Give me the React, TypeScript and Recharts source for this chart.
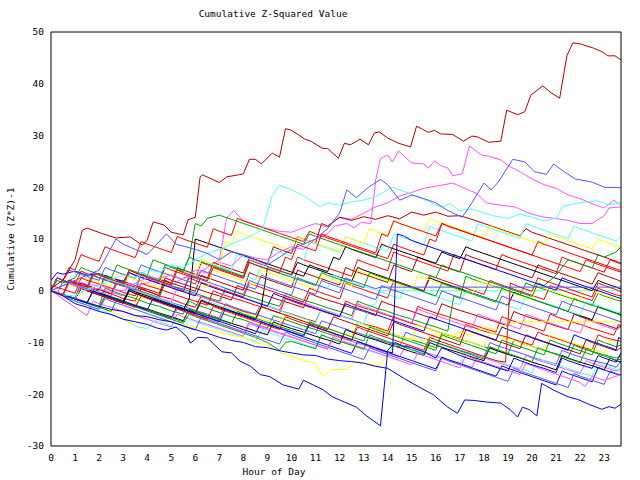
import React from "react";
import { LineChart, Line, XAxis, YAxis } from "recharts";

type Pt = [number, number];

const hourTicks = [0, 1, 2, 3, 4, 5, 6, 7, 8, 9, 10, 11, 12, 13, 14, 15, 16, 17, 18, 19, 20, 21, 22, 23];
const valueTicks = [-30, -20, -10, 0, 10, 20, 30, 40, 50];

const DR = "#b00000";
const R = "#ff0000";
const G = "#00a000";
const B = "#0000ee";
const LB = "#5555ff";
const M = "#ff50ff";
const C = "#50ffff";
const Y = "#ffff00";
const K = "#000000";

// [hour, value] pairs
const drTop: Pt[] = [[0, 0.5], [0.5, 2], [1, 6], [1.3, 11.7], [1.5, 12.1], [2.1, 11.1], [2.7, 10.2], [3.3, 10.4], [3.8, 8.8], [4, 9.8], [4.25, 13.3], [4.7, 12.7], [5, 11.3], [5.5, 10.8], [5.7, 13.7], [6, 14.2], [6.2, 22], [6.3, 22.4], [7, 20.9], [7.3, 22], [7.8, 22.4], [8, 22.6], [8.25, 25.4], [8.5, 25.4], [8.75, 24.5], [9.2, 26.6], [9.5, 25.8], [9.75, 31.3], [9.95, 31.1], [10.3, 30.1], [10.55, 29.3], [10.8, 28.9], [11.3, 27.5], [11.5, 27.5], [11.95, 25.6], [12.2, 28.5], [12.45, 28.2], [12.85, 29.3], [13.2, 28.2], [13.45, 30.5], [13.65, 30.7], [14, 29.5], [14.45, 28.5], [14.95, 27.8], [15.2, 31.8], [15.45, 31.2], [15.7, 30.6], [15.95, 31], [16.2, 30.3], [16.7, 30.2], [17.15, 28.9], [17.5, 29.9], [17.75, 29.7], [18.2, 28.7], [18.7, 28.9], [18.95, 34.9], [19.4, 34], [19.7, 34.6], [19.95, 37.8], [20.45, 39.6], [20.75, 38.4], [21.15, 37.2], [21.45, 45.4], [21.7, 47.9], [22, 47.7], [22.55, 46.9], [22.95, 46.1], [23.15, 45.4], [23.45, 45.4], [23.7, 44.6]];
const magA: Pt[] = [[0, 0], [0.5, -0.8], [0.75, 1.5], [1, 1], [1.5, 0.2], [2, 0.5], [2.5, -0.3], [3, -1], [3.25, 1.5], [3.5, 1], [4, 1.5], [4.5, 2.5], [5, 3], [5.5, 2.2], [6, 4], [6.5, 3.4], [7, 5.5], [7.5, 4.8], [8, 7], [8.5, 6.3], [9, 6], [9.5, 7.5], [10, 8.5], [10.5, 8], [11, 10], [11.5, 11], [11.8, 12.5], [12.3, 13], [12.6, 12.2], [12.9, 13.2], [13.3, 13], [13.5, 21.4], [13.7, 25.6], [14, 26.2], [14.2, 24.9], [14.45, 27], [14.7, 25.9], [15, 24.7], [15.5, 24.5], [15.7, 23.7], [15.95, 25.1], [16.2, 24.2], [16.5, 23.7], [16.7, 22.2], [17.1, 22.6], [17.4, 28], [17.9, 26.2], [18.2, 26], [18.7, 25.3], [19, 24.2], [19.5, 23], [20, 21.6], [20.5, 20.5], [21, 19.8], [21.5, 18.5], [22, 17.8], [22.5, 16.8], [23, 16], [23.4, 17.5], [23.7, 16.5]];
const magB: Pt[] = [[0, 0], [0.5, 1], [1, 2], [1.5, 1.2], [2, 1], [2.5, 0.3], [3, 0], [3.5, 1.5], [4, 2.5], [4.5, 1.8], [5, 1], [5.5, 2.5], [6, 3], [6.5, 4.5], [7, 6], [7.3, 14], [7.6, 15.5], [8, 13.5], [8.5, 12.8], [9, 12], [9.5, 11.5], [10, 11.3], [10.5, 12.2], [11, 13], [11.5, 12.3], [12, 14.2], [12.5, 13.8], [13, 15], [13.5, 16.2], [14, 17], [14.5, 18.3], [15, 19], [15.5, 19.8], [16, 20.2], [16.7, 20.8], [17.2, 19.8], [17.7, 18.8], [18.1, 17], [18.6, 16.6], [19.3, 16.2], [19.8, 15.1], [20.4, 14.3], [20.9, 14], [21.5, 13.6], [22, 13], [22.5, 13], [23, 14.5], [23.2, 16], [23.7, 16.2]];
const blueTop: Pt[] = [[0, 0], [0.5, 1], [1, 2], [1.5, 3], [2, 4], [2.7, 10], [3, 9], [3.5, 8], [4, 7], [4.8, 11], [5.2, 9], [6, 8], [6.5, 7.2], [7, 6], [7.5, 7.5], [8, 7], [8.5, 6], [9, 5], [9.5, 6.5], [10, 8], [10.5, 9], [11, 10], [11.5, 12], [12, 15], [12.3, 19.5], [12.7, 18], [13.2, 20], [13.7, 21.5], [14, 20.5], [14.5, 17.5], [15, 18.5], [15.5, 17.8], [16, 17], [16.5, 15.5], [17.1, 14.2], [17.5, 17], [18, 20.8], [18.3, 19.5], [18.6, 21], [19.2, 25.4], [19.7, 24.9], [20.1, 23], [20.6, 22.5], [20.9, 24.5], [21.3, 23.1], [21.8, 21.6], [22.5, 21], [23, 20], [23.7, 19.9]];
const cyanTop: Pt[] = [[0, 0], [0.5, -0.8], [1, -1], [1.5, 0.3], [2, 1], [2.5, 2.2], [3, 3], [3.5, 2.5], [4, 4], [4.5, 3.6], [5, 5], [5.5, 4.4], [6, 6], [6.5, 7.2], [7, 8], [7.5, 9], [8, 10], [8.5, 11], [8.8, 12], [9.2, 18.4], [9.5, 20.4], [10, 19.5], [10.6, 18.1], [11.2, 16.2], [11.5, 17], [12, 16.5], [12.5, 17.2], [13, 17.5], [13.5, 18.2], [14.2, 20], [14.8, 19], [15.3, 18.1], [16.2, 16.2], [16.6, 16.8], [17, 15.5], [17.5, 15.8], [18, 15], [18.5, 14.4], [19, 14], [19.5, 14.8], [20, 14.2], [20.5, 13.5], [21, 14], [21.3, 16.4], [22, 17], [22.7, 17.4], [23.2, 16.6], [23.7, 17]];
const cyan2: Pt[] = [[0, 0], [0.5, -0.8], [1, -1.6], [1.25, 1], [1.5, 0.5], [2, -0.3], [2.25, 2.5], [2.5, 2], [3, 1.2], [3.5, 0.4], [3.75, 3.5], [4, 3], [4.5, 2.2], [4.75, 5], [5, 4.5], [5.5, 3.7], [6, 2.9], [6.25, 6], [6.5, 5.5], [7, 4.7], [7.5, 3.9], [7.75, 7], [8, 6.5], [8.5, 5.7], [9, 4.9], [9.25, 8], [9.5, 7.5], [10, 6.7], [10.5, 5.9], [10.75, 9.5], [11, 9], [11.5, 8.2], [12, 7.4], [12.25, 10.5], [12.5, 10], [13, 9.2], [13.5, 8.4], [14, 7.6], [14.25, 11], [14.5, 10.5], [15, 9.7], [15.5, 8.9], [15.75, 12.5], [16, 12], [16.5, 11.2], [17, 10.4], [17.5, 9.6], [17.75, 13], [18, 12.5], [18.5, 11.7], [19, 10.9], [19.5, 10.1], [19.75, 13], [20, 12.5], [20.5, 11.7], [21, 10.9], [21.5, 10.1], [21.75, 12.5], [22, 12], [22.5, 11.2], [23, 10.4], [23.5, 9.6], [23.7, 10.5]];
const drMid: Pt[] = [[0, 0], [0.5, -0.8], [0.75, 2], [1, 1.5], [1.5, 0.7], [2, -0.1], [2.25, 2.5], [2.5, 2], [3, 1.2], [3.5, 0.4], [3.75, 3.5], [4, 3], [4.5, 2.2], [5, 1.4], [5.25, 4.5], [5.5, 4], [6, 3.2], [6.5, 2.4], [6.75, 5.5], [7, 5], [7.5, 4.2], [8, 3.4], [8.25, 6.5], [8.5, 6], [9, 5.2], [9.25, 8.5], [9.5, 8], [10, 7.2], [10.25, 10.5], [10.5, 10], [11, 9.2], [11.25, 13], [11.5, 12.5], [12, 14.2], [12.5, 13.6], [13, 14.3], [13.5, 13.8], [14, 14.5], [14.5, 13.9], [15, 15.2], [15.5, 14.6], [16, 15.2], [16.5, 14.4], [17, 14.5], [17.5, 13.8], [18, 13], [18.5, 12.2], [19, 11.4], [19.5, 10.6], [19.75, 12], [20, 11.3], [20.5, 10.5], [21, 9.7], [21.5, 8.9], [22, 8.1], [22.5, 7.3], [23, 6.5], [23.5, 5.7], [23.7, 5.3]];
const yellowTop: Pt[] = [[0, 0], [0.5, -0.8], [0.75, 1.5], [1, 1], [1.5, 0.2], [1.75, 3], [2, 2.5], [2.5, 1.7], [3, 0.9], [3.25, 4], [3.5, 3.5], [4, 2.7], [4.5, 1.9], [5, 1.1], [5.25, 4], [5.5, 3.5], [6, 2.7], [6.25, 6], [6.5, 5.5], [7, 4.7], [7.25, 9.5], [7.5, 9], [7.75, 11.5], [8, 11], [8.5, 10.2], [9, 9.4], [9.5, 8.6], [10, 7.8], [10.25, 10.5], [10.5, 10], [11, 9.2], [11.5, 8.4], [12, 7.6], [12.25, 10.5], [12.5, 10], [13, 9.2], [13.25, 12], [13.5, 11.5], [14, 10.7], [14.25, 13.5], [14.5, 13], [15, 12.2], [15.5, 11.4], [15.75, 14], [16, 13.5], [16.5, 12.7], [17, 11.9], [17.5, 11.1], [18, 10.3], [18.25, 12.5], [18.5, 12], [19, 11.2], [19.5, 10.4], [20, 9.6], [20.5, 8.8], [20.75, 11], [21, 10.5], [21.5, 9.7], [22, 8.9], [22.5, 8.1], [22.75, 10], [23, 9.5], [23.5, 8.7], [23.7, 8.4]];
const greenTop: Pt[] = [[0, 0], [0.5, -0.8], [0.75, 1.5], [1, 1], [1.5, 0.2], [1.75, 3], [2, 2.5], [2.5, 1.7], [3, 0.9], [3.25, 4], [3.5, 3.5], [4, 2.7], [4.5, 1.9], [4.75, 5], [5, 4.5], [5.5, 3.7], [5.75, 6.5], [6, 13], [6.25, 12.5], [6.5, 14], [7, 14.6], [7.5, 13.8], [8, 13], [8.5, 12.2], [9, 11.4], [9.5, 10.6], [10, 9.8], [10.5, 9], [10.75, 11], [11, 10.5], [11.5, 9.7], [12, 8.9], [12.5, 8.1], [13, 7.3], [13.5, 6.5], [14, 5.7], [14.5, 4.9], [15, 4.1], [15.5, 3.3], [16, 2.5], [16.25, 5], [16.5, 4.5], [17, 3.7], [17.5, 2.9], [18, 2.1], [18.5, 1.3], [19, 0.5], [19.5, -0.3], [20, -1.1], [20.25, 1.5], [20.5, 1], [21, 3], [21.5, 6], [22, 5.2], [22.5, 4.4], [22.75, 7], [23, 6.5], [23.5, 7.5], [23.7, 8.5]];
const black1: Pt[] = [[0, 0], [0.5, -0.8], [1, -1.6], [1.25, 0.5], [1.5, 0], [2, -0.8], [2.5, -1.6], [3, -2.4], [3.25, 0], [3.5, -0.5], [4, -1.3], [4.5, -2.1], [5, -2.9], [5.5, -3.7], [5.75, -1.5], [6, 10], [6.5, 9.2], [7, 8.4], [7.5, 7.6], [8, 6.8], [8.5, 6], [9, 5.2], [9.5, 4.4], [10, 3.6], [10.5, 2.8], [10.75, 5], [11, 4.5], [11.5, 3.7], [11.75, 6.5], [12, 6], [12.25, 8.5], [12.5, 8], [13, 7.2], [13.5, 6.4], [13.75, 9], [14, 8.5], [14.5, 7.7], [15, 6.9], [15.5, 6.1], [16, 5.3], [16.25, 7.5], [16.5, 7], [17, 6.2], [17.25, 8.5], [17.5, 8], [18, 7.2], [18.5, 6.4], [19, 5.6], [19.5, 4.8], [20, 4], [20.5, 3.2], [21, 2.4], [21.5, 1.6], [22, 0.8], [22.5, 0], [22.75, 2], [23, 1.5], [23.5, 0.7], [23.7, 0.3]];
const black2: Pt[] = [[0, 0], [0.5, -0.7], [0.75, 1.5], [1, 1.2], [1.5, 0.4], [2, -0.4], [2.5, -1.2], [3, -2], [3.25, 0.3], [3.5, -0.2], [4, -1], [4.5, -1.8], [5, -2.6], [5.5, -3.4], [6, -4.2], [6.25, -1.8], [6.5, -2.3], [7, -3.1], [7.5, -3.9], [8, -4.7], [8.5, -5.5], [8.75, -3], [9, 4.5], [9.5, 3.8], [10, 3], [10.25, 5.5], [10.5, 5], [11, 4.2], [11.5, 3.4], [12, 2.6], [12.5, 1.8], [12.75, 4.5], [13, 4], [13.5, 3.2], [14, 2.4], [14.5, 1.6], [15, 0.8], [15.5, 0], [15.75, 2.5], [16, 2], [16.5, 1.2], [17, 0.4], [17.5, -0.4], [18, -1.2], [18.5, -2], [19, -2.8], [19.25, -0.3], [19.5, -0.8], [20, -1.6], [20.5, -2.4], [21, -3.2], [21.5, -4], [22, -4.8], [22.5, -5.6], [22.75, -3], [23, -3.5], [23.5, -4.3], [23.7, -4.6]];
const black3: Pt[] = [[0, 0], [0.5, -0.7], [1, -1.5], [1.5, -2.3], [1.75, 0], [2, -0.5], [2.5, -1.3], [3, -2], [3.5, -2.8], [4, -3.5], [4.5, -4.3], [5, -5], [5.5, -5.8], [5.75, -3.5], [6, -4], [6.5, -4.8], [7, -5.5], [7.5, -6.3], [8, -7], [8.5, -7.8], [9, -8.5], [9.25, -6], [9.5, -6.5], [10, -7.3], [10.5, -8], [11, -8.8], [11.5, -9.5], [12, -10.3], [12.25, -7.5], [12.5, -8], [13, -8.8], [13.5, -9.5], [14, -10.3], [14.5, -11], [15, -11.8], [15.5, -12.5], [15.75, -10], [16, -10.5], [16.5, -11.3], [17, -12], [17.5, -12.8], [18, -13.5], [18.25, -11], [18.5, -11.5], [19, -12.3], [19.5, -13], [20, -13.8], [20.5, -14.5], [21, -15.3], [21.25, -12.5], [21.5, -13], [22, -13.8], [22.5, -14.5], [23, -15.3], [23.25, -13], [23.5, -13.5], [23.7, -13.8]];
const red1: Pt[] = [[0, 0], [0.5, -0.8], [1, -1.6], [1.25, 0.5], [1.5, 0], [2, -0.8], [2.5, -1.6], [3, -2.4], [3.5, -3.2], [3.75, -1], [4, -1.5], [4.5, -2.3], [5, -3.1], [5.5, -3.9], [6, -4.7], [6.5, -5.5], [6.75, -3], [7, -3.5], [7.5, -4.3], [8, -5.1], [8.5, -5.9], [9, -6.7], [9.5, -7.5], [9.75, -5], [10, -5.5], [10.5, -6.3], [11, -7.1], [11.5, -7.9], [12, -8.7], [12.5, -9.5], [12.75, -7], [13, -7.5], [13.5, -8.3], [14, -9.1], [14.5, -9.9], [15, -10.7], [15.5, -11.5], [15.75, -9], [16, -9.5], [16.5, -10.3], [17, -11.1], [17.5, -11.9], [18, -12.7], [18.5, -13.5], [18.9, -13.8], [19.1, 1.5], [19.5, 0.7], [20, -0.1], [20.25, 2.5], [20.5, 2], [21, 1.2], [21.5, 0.4], [22, -0.4], [22.5, -1.2], [22.75, 1.5], [23, 1], [23.5, 0.2], [23.7, -0.2]];
const red2: Pt[] = [[0, 0], [0.25, 2.5], [0.5, 2], [0.75, 4.5], [1, 4], [1.25, 7], [1.5, 6.5], [2, 5.7], [2.25, 8.5], [2.5, 8], [3, 7.2], [3.5, 6.4], [3.75, 9.5], [4, 9], [4.5, 8.2], [5, 7.4], [5.25, 10.5], [5.5, 10], [6, 9.2], [6.5, 8.4], [6.75, 12], [7, 11.5], [7.5, 10.7], [7.75, 14], [8, 13.5], [8.5, 12.7], [9, 11.9], [9.5, 11.1], [10, 10.3], [10.5, 9.5], [10.75, 11.5], [11, 11], [11.5, 10.2], [12, 9.4], [12.5, 8.6], [13, 7.8], [13.5, 7], [14, 6.2], [14.25, 9], [14.5, 8.5], [15, 7.7], [15.5, 6.9], [15.75, 10], [16, 9.5], [16.25, 13], [16.5, 12.5], [17, 11.7], [17.5, 10.9], [18, 10.1], [18.5, 9.3], [19, 8.5], [19.5, 7.7], [20, 6.9], [20.5, 6.1], [21, 5.3], [21.5, 4.5], [22, 3.7], [22.25, 6], [22.5, 5.5], [23, 4.7], [23.5, 3.9], [23.7, 3.6]];
const red3: Pt[] = [[0, 0], [0.5, -0.8], [0.75, 2], [1, 1.5], [1.5, 0.7], [1.75, 3.5], [2, 3], [2.5, 2.2], [3, 1.4], [3.25, 4], [3.5, 3.5], [4, 2.7], [4.5, 1.9], [5, 1.1], [5.25, 4], [5.5, 3.5], [6, 2.7], [6.5, 1.9], [6.75, 4.5], [7, 4], [7.5, 3.2], [8, 2.4], [8.25, 5.5], [8.5, 5], [9, 4.2], [9.5, 3.4], [9.75, 6.5], [10, 6], [10.25, 9], [10.5, 8.5], [11, 7.7], [11.25, 11], [11.5, 10.5], [12, 9.7], [12.5, 8.9], [13, 8.1], [13.5, 7.3], [13.75, 11], [14, 10.5], [14.25, 13.5], [14.5, 13], [15, 12.2], [15.5, 11.4], [16, 10.6], [16.25, 13], [16.5, 12.5], [17, 11.7], [17.5, 10.9], [18, 10.1], [18.5, 9.3], [19, 8.5], [19.5, 7.7], [20, 6.9], [20.25, 9.5], [20.5, 9], [21, 8.2], [21.5, 7.4], [22, 6.6], [22.5, 5.8], [23, 5], [23.5, 4.2], [23.7, 3.9]];
const red4: Pt[] = [[0, 0], [0.5, -0.8], [1, -1.5], [1.25, 1.5], [1.5, 1], [2, 0.2], [2.5, -0.6], [3, -1.5], [3.5, -2], [3.75, 0.5], [4, 0], [4.5, -1], [5, -1.6], [5.5, -2.5], [6, -3.2], [6.25, -1], [6.5, -1.5], [7, -2.3], [7.5, -3.2], [8, -4], [8.5, -4.6], [8.75, -2.5], [9, -3], [9.5, -3.8], [10, -4.5], [10.5, -5.3], [11, -6], [11.25, -3.5], [11.5, -4], [12, -4.8], [12.5, -5.5], [13, -6.4], [13.5, -7], [14, -7.8], [14.25, -5], [14.5, -5.5], [15, -6.3], [15.5, -7], [16, -7.8], [16.5, -8.5], [17, -9.2], [17.25, -6.5], [17.5, -7], [18, -7.8], [18.5, -8.4], [19, -9], [19.5, -9.8], [20, -10.5], [20.25, -8], [20.5, -8.5], [21, -9.2], [21.5, -10], [22, -10.8], [22.5, -11.4], [22.75, -8.5], [23, -9], [23.5, -9.6], [23.7, -9.8]];
const red5: Pt[] = [[0, 1], [0.5, 0.3], [1, -0.5], [1.25, 2.5], [1.5, 2], [2, 1.3], [2.5, 0.5], [3, -0.3], [3.5, -1], [3.75, 1.5], [4, 1], [4.5, 0.3], [5, -0.5], [5.5, -1.3], [6, -2], [6.5, -2.8], [6.75, 0], [7, -0.5], [7.5, -1.3], [8, -2], [8.5, -2.8], [9, -3.5], [9.5, -4.3], [9.75, -1.5], [10, -2], [10.5, -2.8], [11, -3.5], [11.5, -4.3], [12, -5], [12.25, -2], [12.5, -2.5], [13, -3.3], [13.5, -4], [14, -4.8], [14.5, -5.5], [15, -6.3], [15.25, -3], [15.5, -3.5], [16, -4.3], [16.5, -5], [17, -5.8], [17.5, -6.5], [18, -7.3], [18.5, -8], [18.75, -5], [19, -5.5], [19.5, -6.3], [20, -7], [20.5, -7.8], [20.75, -4.5], [21, -5], [21.5, -5.8], [22, -6.5], [22.5, -7.3], [23, -8], [23.4, -8.6], [23.6, -6.5], [23.7, -6.8]];
const red6: Pt[] = [[0, 0], [0.25, 2.5], [0.5, 2], [1, 1.2], [1.25, 3.8], [1.5, 3.3], [2, 2.5], [2.5, 1.7], [3, 0.9], [3.25, 3.5], [3.5, 3], [4, 2.2], [4.5, 1.4], [5, 0.6], [5.5, -0.2], [5.75, 2.5], [6, 2], [6.5, 1.2], [7, 0.4], [7.5, -0.4], [8, -1.2], [8.25, 1.5], [8.5, 1], [9, 0.2], [9.5, -0.6], [10, -1.4], [10.5, -2.2], [10.75, 0.5], [11, 0], [11.5, -0.8], [12, -1.6], [12.25, 1.5], [12.5, 1], [13, 0.2], [13.5, -0.6], [14, -1.4], [14.25, 2], [14.5, 1.5], [15, 0.7], [15.5, -0.1], [15.75, 3], [16, 2.5], [16.5, 1.7], [17, 0.9], [17.5, 0.1], [18, -0.7], [18.25, 2], [18.5, 1.5], [19, 0.7], [19.5, -0.1], [20, -0.9], [20.5, -1.7], [20.75, 1], [21, 0.5], [21.5, -0.3], [22, -1.1], [22.5, -1.9], [22.75, 0.5], [23, 0], [23.5, -0.8], [23.7, -1]];
const red7: Pt[] = [[0, 0], [0.25, 2.5], [0.5, 2], [1, 1.2], [1.5, 0.4], [1.75, 3], [2, 2.5], [2.5, 1.7], [3, 0.9], [3.25, 4], [3.5, 3.5], [4, 2.7], [4.5, 1.9], [4.75, 4.5], [5, 4], [5.5, 3.2], [6, 2.4], [6.25, 5.5], [6.5, 5], [7, 4.2], [7.5, 3.4], [8, 2.6], [8.25, 6], [8.5, 5.5], [9, 4.7], [9.5, 3.9], [10, 3.1], [10.25, 6.5], [10.5, 6], [11, 5.2], [11.5, 4.4], [12, 3.6], [12.5, 2.8], [12.75, 6], [13, 5.5], [13.5, 4.7], [14, 3.9], [14.25, 7.5], [14.5, 7], [15, 6.2], [15.5, 5.4], [16, 4.6], [16.5, 3.8], [16.75, 7], [17, 6.5], [17.5, 5.7], [18, 4.9], [18.5, 4.1], [18.75, 7], [19, 6.5], [19.5, 5.7], [20, 4.9], [20.5, 4.1], [21, 3.3], [21.25, 6.5], [21.5, 6], [22, 5.2], [22.5, 4.4], [23, 3.6], [23.25, 6], [23.5, 5.5], [23.7, 5.2]];
const dr2: Pt[] = [[0, 0], [0.5, -0.8], [0.75, 2], [1, 1.7], [1.5, 1], [2, 0.2], [2.25, 3], [2.5, 2.5], [3, 1.8], [3.5, 1], [4, 0.3], [4.5, -0.5], [4.75, 2.5], [5, 2], [5.5, 1.3], [6, 0.5], [6.5, -0.3], [7, -1], [7.5, -1.8], [7.75, 1], [8, 0.5], [8.5, -0.3], [9, -1], [9.5, -1.8], [10, -2.5], [10.5, -3.3], [10.75, -0.5], [11, -1], [11.5, -1.8], [12, -2.5], [12.5, -3.3], [13, -4], [13.5, -4.8], [13.75, -2], [14, -2.5], [14.5, -3.3], [15, -4], [15.5, -4.8], [16, -5.5], [16.25, -2.5], [16.5, -3], [17, -3.8], [17.5, -4.5], [18, -5.3], [18.5, -6], [19, -6.8], [19.25, -4], [19.5, -4.5], [20, -5.3], [20.5, -6], [21, -6.8], [21.5, -7.5], [21.75, -4.5], [22, -5], [22.5, -5.8], [23, -6.5], [23.5, -7.3], [23.7, -6.8]];
const dr3: Pt[] = [[0, 0], [0.5, -0.8], [1, -1.6], [1.25, 1.5], [1.5, 1], [2, 0.2], [2.5, -0.6], [2.75, 2], [3, 1.5], [3.5, 0.7], [4, -0.1], [4.5, -0.9], [4.75, 2], [5, 1.5], [5.5, 0.7], [6, -0.1], [6.25, 3], [6.5, 2.5], [7, 1.7], [7.5, 0.9], [8, 0.1], [8.25, 3.5], [8.5, 3], [9, 2.2], [9.5, 1.4], [10, 0.6], [10.25, 4], [10.5, 3.5], [11, 2.7], [11.5, 1.9], [12, 1.1], [12.25, 4.5], [12.5, 4], [13, 3.2], [13.5, 2.4], [14, 1.6], [14.25, 5], [14.5, 4.5], [15, 3.7], [15.25, 6.5], [15.5, 6], [16, 5.2], [16.5, 4.4], [17, 3.6], [17.25, 7], [17.5, 6.5], [18, 5.7], [18.5, 4.9], [19, 4.1], [19.5, 3.3], [20, 2.5], [20.25, 5], [20.5, 4.5], [21, 3.7], [21.5, 2.9], [22, 2.1], [22.5, 1.3], [22.75, 3.5], [23, 3], [23.5, 2.2], [23.7, 1.8]];
const dr4: Pt[] = [[0, 0], [0.5, -0.8], [1, -1.6], [1.25, 0.5], [1.5, 0], [2, -0.8], [2.5, -1.6], [3, -2.4], [3.25, 0], [3.5, -0.5], [4, -1.3], [4.5, -2.1], [5, -2.9], [5.5, -3.7], [6, -4.5], [6.25, -2], [6.5, -2.5], [7, -3.3], [7.5, -4.1], [8, -4.9], [8.5, -5.7], [8.75, -3], [9, -3.5], [9.5, -4.3], [10, -5.1], [10.5, -5.9], [11, -6.7], [11.5, -7.5], [11.75, -5], [12, -5.5], [12.5, -6.3], [13, -7.1], [13.5, -7.9], [14, -8.7], [14.25, -6], [14.5, -6.5], [15, -7.3], [15.5, -8.1], [16, -8.9], [16.5, -9.7], [17, -10.5], [17.25, -7.5], [17.5, -8], [18, -8.8], [18.5, -9.6], [19, -10.4], [19.5, -11.2], [19.75, -8.5], [20, -9], [20.5, -9.8], [21, -10.6], [21.5, -11.4], [22, -12.2], [22.25, -9.5], [22.5, -10], [23, -10.8], [23.5, -11.6], [23.7, -11]];
const green2: Pt[] = [[0, 0], [0.5, -0.7], [1, -1.5], [1.5, -2.2], [2, -3], [2.25, 0.5], [2.5, 0], [3, -0.8], [3.5, -1.5], [4, -2.4], [4.5, -3], [5, -3.9], [5.5, -4.5], [5.75, -2], [6, -2.6], [6.5, -3.4], [7, -4.2], [7.5, -5], [8, -5.6], [8.5, -6.5], [9, -7.2], [9.25, -4.8], [9.5, -5.2], [10, -6], [10.5, -6.8], [11, -7.5], [11.5, -8.3], [12, -9], [12.5, -9.7], [12.75, -6], [13, -6.5], [13.5, -7.3], [14, -8], [14.5, -8.8], [15, -9.5], [15.5, -10.2], [16, -11], [16.25, -8.2], [16.5, -8.6], [17, -9.4], [17.5, -10], [18, -10.8], [18.5, -11.5], [19, -12.2], [19.25, -9.5], [19.5, -10], [20, -10.8], [20.5, -11.5], [21, -12.2], [21.5, -12.9], [21.75, -10.5], [22, -11], [22.5, -11.7], [23, -12.4], [23.5, -13], [23.7, -12.6]];
const green3: Pt[] = [[0, 0], [0.5, -0.8], [1, -1.5], [1.25, 1], [1.5, 0.5], [2, -0.3], [2.5, -1], [2.75, 1.5], [3, 1], [3.5, 0.3], [4, -0.5], [4.5, -1.3], [4.75, 1.5], [5, 1], [5.5, 0.3], [6, -0.5], [6.5, -1.3], [7, -2], [7.25, 0.5], [7.5, 0], [8, -0.8], [8.5, -1.5], [9, -2.3], [9.5, -3], [9.75, -0.5], [10, -1], [10.5, -1.8], [11, -2.5], [11.5, -3.3], [12, -4], [12.5, -4.8], [12.75, -2], [13, -2.5], [13.5, -3.3], [14, -4], [14.5, -4.8], [15, -5.5], [15.5, -6.3], [16, -7], [16.5, -7.8], [16.75, -1], [17, -1.5], [17.25, 2.8], [17.5, 2.3], [18, 1.5], [18.5, 0.8], [19, 0], [19.5, -0.8], [19.75, 1.5], [20, 1], [20.5, 0.3], [21, -0.5], [21.5, -1.3], [22, -2], [22.5, -2.8], [22.75, -0.5], [23, -1], [23.5, -1.8], [23.7, -2]];
const green4: Pt[] = [[0, 0], [0.25, 2], [0.5, 1.5], [1, 2.5], [1.25, 4.5], [1.5, 4], [2, 3.2], [2.5, 2.4], [2.75, 5], [3, 4.5], [3.5, 3.7], [4, 2.9], [4.25, 6], [4.5, 5.5], [5, 4.7], [5.5, 3.9], [5.75, 6.5], [6, 6], [6.5, 5.2], [7, 4.4], [7.5, 3.6], [8, 2.8], [8.25, 5.5], [8.5, 5], [9, 4.2], [9.5, 3.4], [10, 2.6], [10.5, 1.8], [11, 1], [11.25, 3.5], [11.5, 3], [12, 2.2], [12.5, 1.4], [13, 0.6], [13.25, 3.5], [13.5, 3], [14, 2.2], [14.5, 1.4], [15, 0.6], [15.5, -0.2], [16, -1], [16.25, 1.5], [16.5, 1], [17, 0.2], [17.5, -0.6], [18, -1.4], [18.5, -2.2], [18.75, 0.5], [19, 0], [19.5, -0.8], [20, -1.6], [20.5, -2.4], [21, -3.2], [21.5, -4], [21.75, -1.5], [22, -2], [22.5, -2.8], [23, -3.6], [23.5, -4.4], [23.7, -4.8]];
const green5: Pt[] = [[0, 0], [0.5, -0.8], [1, -1.6], [1.5, -2.4], [2, -3.2], [2.5, -4], [2.75, -1.5], [3, -2], [3.5, -2.8], [4, -3.6], [4.5, -4.4], [5, -5.2], [5.5, -6], [5.75, -3.5], [6, -4], [6.5, -4.8], [7, -5.6], [7.5, -6.4], [7.75, -4], [8, -4.5], [8.5, -5.3], [9, -6.1], [9.5, -6.9], [10, -7.7], [10.5, -8.5], [10.75, -6], [11, -6.5], [11.5, -7.3], [12, -8.1], [12.5, -8.9], [13, -9.7], [13.25, -7], [13.5, -7.5], [14, -8.3], [14.5, -9.1], [15, -9.9], [15.5, -10.7], [16, -11.5], [16.25, -8.5], [16.5, -9], [17, -9.8], [17.5, -10.6], [18, -11.4], [18.5, -12.2], [18.75, -9.5], [19, -10], [19.5, -10.8], [20, -11.6], [20.5, -12.4], [20.75, -9.5], [21, -10], [21.5, -10.8], [22, -11.6], [22.5, -12.4], [22.75, -9.5], [23, -10], [23.5, -10.8], [23.7, -10.5]];
const greenLow: Pt[] = [[0, 0], [0.5, -0.8], [1, -1.6], [1.5, -2.4], [2, -3.2], [2.25, -1], [2.5, -1.5], [3, -2.3], [3.5, -3.1], [4, -3.9], [4.5, -4.7], [5, -5.5], [5.5, -6.3], [5.75, -4.5], [6, -5], [6.5, -5.8], [7, -6.6], [7.5, -7.4], [8, -8.2], [8.5, -9], [9, -10], [9.5, -11.5], [9.75, -10], [10, -9.8], [10.5, -10.5], [11, -11.2], [11.25, -8.5], [11.5, -9], [12, -9.8], [12.5, -10.5], [13, -11.3], [13.25, -8.5], [13.5, -9], [14, -9.8], [14.5, -10.6], [15, -11.4], [15.5, -12.2], [15.75, -9.5], [16, -10], [16.5, -10.8], [17, -11.6], [17.5, -12.4], [18, -13.2], [18.25, -10.8], [18.5, -11.3], [19, -12.1], [19.5, -12.9], [20, -13.7], [20.25, -11], [20.5, -11.5], [21, -12.3], [21.5, -13.1], [22, -13.9], [22.25, -11.3], [22.5, -11.8], [23, -12.6], [23.5, -13.4], [23.7, -13.2]];
const blueLow1: Pt[] = [[0, 0], [0.5, -1], [1, -2.5], [1.5, -3.2], [2, -4], [2.5, -4.6], [3, -5.5], [3.5, -6], [4, -6.5], [4.4, -7.2], [4.8, -7.6], [5.2, -7], [5.65, -8.9], [5.8, -10.1], [6.1, -9], [6.5, -9.1], [7.1, -11.8], [7.5, -12], [7.86, -13.6], [8.3, -14.6], [8.7, -16.2], [9.1, -16.6], [9.65, -18.2], [10.3, -19], [10.5, -17.3], [10.9, -18.2], [11.3, -19.1], [11.7, -20.5], [12.2, -21.5], [12.7, -22.5], [13.1, -24.1], [13.7, -26.1], [14, -11.5], [14.3, -10], [14.6, -10.6], [15, -11], [15.5, -11.8], [16, -13], [16.25, -11], [16.5, -11.5], [17, -12.5], [17.5, -13.3], [18, -14], [18.5, -14.8], [19, -15.5], [19.25, -13], [19.5, -13.5], [20, -14.3], [20.5, -15], [21, -15.8], [21.25, -13], [21.5, -13.5], [22, -14.3], [22.5, -15], [22.75, -12.5], [23, -13], [23.5, -13.8], [23.7, -12]];
const blueLow2: Pt[] = [[0, 0], [0.5, -0.8], [1, -1.5], [1.5, -2.3], [2, -3], [2.5, -3.6], [3, -4], [3.5, -4.8], [4, -5], [4.5, -5.6], [5, -6], [5.5, -6.8], [6, -7.5], [6.5, -8.2], [7, -9], [7.5, -9.6], [8, -10], [8.5, -10.8], [9, -11], [9.5, -11.6], [10, -12], [10.5, -12.4], [11, -12.5], [11.5, -13.2], [12, -13.5], [12.5, -13.7], [13, -14], [13.5, -14.6], [14, -15], [14.7, -17], [15.3, -18.6], [15.9, -20.1], [16.5, -22.5], [16.9, -23.7], [17.2, -21.1], [17.6, -21.2], [18.1, -21.5], [18.7, -21.7], [19.1, -23], [19.4, -24.4], [19.6, -22.5], [19.9, -23], [20.2, -24.2], [20.4, -17.9], [20.9, -19.2], [21.5, -20.5], [21.9, -21], [22.4, -22], [22.9, -22.9], [23.2, -22.4], [23.45, -22.7], [23.7, -21.9]];
const blueLow3: Pt[] = [[0, 0], [0.5, -0.8], [1, -1.6], [1.25, 0.8], [1.5, 0.3], [2, -0.5], [2.5, -1.3], [3, -2.1], [3.5, -2.9], [4, -3.7], [4.5, -4.5], [5, -5.3], [5.25, -3], [5.5, -3.5], [6, -4.3], [6.5, -5.1], [7, -5.9], [7.5, -6.7], [8, -7.5], [8.5, -8.3], [8.75, -6], [9, -6.5], [9.5, -7.3], [10, -8.1], [10.5, -8.9], [11, -9.7], [11.5, -10.5], [12, -11.3], [12.5, -12.1], [12.75, -9.8], [13, -10.3], [13.5, -11.1], [14, -11.9], [14.5, -12.7], [15, -13.5], [15.5, -14.3], [16, -15.1], [16.25, -12.8], [16.5, -13.3], [17, -14.1], [17.5, -14.9], [18, -15.7], [18.5, -16.5], [18.75, -14.5], [19, -15], [19.5, -15.8], [20, -16.6], [20.5, -17.4], [21, -18.2], [21.25, -15.5], [21.5, -16], [22, -16.8], [22.5, -17.6], [22.75, -14.8], [23, -15.3], [23.5, -16.1], [23.7, -16.3]];
const blueJump: Pt[] = [[0, 0], [0.5, -0.8], [1, -1.6], [1.5, -2.4], [1.75, 0], [2, -0.5], [2.5, -1.3], [3, -2.1], [3.5, -2.9], [4, -3.7], [4.25, -1.5], [4.5, -2], [5, -2.8], [5.5, -3.6], [6, -4.4], [6.5, -5.2], [7, -6], [7.25, -3.5], [7.5, -4], [8, -4.8], [8.5, -5.6], [9, -6.4], [9.5, -7.2], [10, -8], [10.5, -8.8], [10.75, -6.5], [11, -7], [11.5, -7.8], [12, -8.6], [12.5, -9.4], [13, -10.2], [13.5, -11], [14, -11.8], [14.2, -12], [14.4, 11], [14.7, 10.5], [15, 9.7], [15.5, 8.9], [16, 8.1], [16.5, 7.3], [17, 6.5], [17.5, 5.7], [18, 4.9], [18.5, 4.1], [19, 3.3], [19.5, 2.5], [20, 1.7], [20.5, 0.9], [21, 0.1], [21.25, 2.5], [21.5, 2], [22, 1.2], [22.5, 0.4], [23, -0.4], [23.5, -1.2], [23.7, -1.5]];
const blueEarly: Pt[] = [[0, 2], [0.25, 3.5], [0.5, 3.2], [1, 3.8], [1.5, 3], [2, 3.3], [2.5, 2.5], [3, 1.8], [3.25, 3.5], [3.5, 3], [4, 2.2], [4.5, 1.4], [5, 0.6], [5.5, -0.2], [6, -1], [6.25, 1.5], [6.5, 1], [7, 0.2], [7.5, -0.6], [8, -1.4], [8.5, -2.2], [9, -3], [9.25, -0.5], [9.5, -1], [10, -1.8], [10.5, -2.6], [11, -3.4], [11.5, -4.2], [12, -5], [12.25, -2.5], [12.5, -3], [13, -3.8], [13.5, -4.6], [14, -5.4], [14.5, -6.2], [15, -7], [15.5, -7.8], [15.75, -5], [16, -5.5], [16.5, -6.3], [17, -7.1], [17.5, -7.9], [18, -8.7], [18.5, -9.5], [18.75, -7], [19, -7.5], [19.5, -8.3], [20, -9.1], [20.5, -9.9], [21, -10.7], [21.5, -11.5], [21.75, -8.5], [22, -9], [22.5, -9.8], [23, -10.6], [23.5, -11.4], [23.6, -9], [23.7, -9.3]];
const lb2: Pt[] = [[0, 0], [0.25, -0.5], [0.5, 1.8], [1, 1], [1.5, 0.3], [2, -0.5], [2.5, -1.3], [3, -2], [3.25, 0.5], [3.5, 0], [4, -0.8], [4.5, -1.6], [5, -2.3], [5.5, -3], [6, -3.8], [6.5, -4.5], [7, -5.3], [7.25, -2.5], [7.5, -3], [8, -3.8], [8.5, -4.5], [9, -5.3], [9.5, -6], [10, -6.8], [10.5, -7.5], [11, -8.3], [11.25, -5.8], [11.5, -6.2], [12, -7], [12.5, -7.8], [13, -8.5], [13.5, -9.3], [14, -10], [14.5, -10.8], [14.75, -8], [15, -8.5], [15.5, -9.2], [16, -10], [16.5, -10.7], [17, -11.5], [17.5, -12.2], [18, -12.8], [18.25, -10], [18.5, -10.5], [19, -11.3], [19.5, -12], [20, -12.8], [20.5, -13.5], [21, -14.2], [21.25, -11.5], [21.5, -12], [22, -12.8], [22.5, -13.5], [23, -14], [23.5, -14.8], [23.7, -13.5]];
const lb4: Pt[] = [[0, 0], [0.25, 2.5], [0.5, 2], [0.75, 4], [1, 3.6], [1.5, 2.8], [2, 2], [2.25, 4.5], [2.5, 4], [3, 3.2], [3.5, 2.4], [3.75, 5], [4, 4.5], [4.5, 3.7], [5, 2.9], [5.5, 2.1], [6, 1.3], [6.25, 4], [6.5, 3.5], [7, 2.7], [7.5, 1.9], [8, 1.1], [8.5, 0.3], [8.75, 3], [9, 2.5], [9.5, 1.7], [10, 0.9], [10.5, 0.1], [11, -0.7], [11.25, 2], [11.5, 1.5], [12, 0.7], [12.5, -0.1], [13, -0.9], [13.5, -1.7], [13.75, 1], [14, 0.5], [14.5, -0.3], [15, -1.1], [15.5, -1.9], [16, -2.7], [16.25, 0], [16.5, -0.5], [17, -1.3], [17.5, -2.1], [18, -2.9], [18.5, -3.7], [18.75, -1], [19, -1.5], [19.5, -2.3], [20, -3.1], [20.5, -3.9], [21, -4.7], [21.25, -2], [21.5, -2.5], [22, -3.3], [22.5, -4.1], [23, -4.9], [23.5, -5.7], [23.7, -6]];
const lb5: Pt[] = [[0, 0], [0.5, -1], [1, -2], [1.5, -2.8], [2, -3.6], [2.25, -1.5], [2.5, -2], [3, -2.8], [3.5, -3.6], [4, -4.4], [4.5, -5.2], [5, -6], [5.5, -6.8], [6, -7.6], [6.25, -5], [6.5, -5.5], [7, -6.3], [7.5, -7.1], [8, -7.9], [8.5, -8.7], [9, -9.5], [9.5, -10.3], [9.75, -8], [10, -8.5], [10.5, -9.3], [11, -10.1], [11.5, -10.9], [12, -11.7], [12.5, -12.5], [13, -13.3], [13.25, -11], [13.5, -11.5], [14, -12.3], [14.5, -13.1], [15, -13.9], [15.5, -14.7], [16, -15.5], [16.25, -13], [16.5, -13.5], [17, -14.3], [17.5, -15.1], [18, -15.9], [18.5, -16.7], [19, -17.5], [19.25, -15], [19.5, -15.5], [20, -16.3], [20.5, -17.1], [21, -17.9], [21.5, -18.7], [21.75, -16], [22, -16.5], [22.5, -17.3], [23, -18.1], [23.25, -15.5], [23.5, -16], [23.7, -16.3]];
const lbFlat: Pt[] = [[0, 0], [0.25, 2.5], [0.5, 2], [1, 1.2], [1.5, 0.4], [1.75, 3], [2, 2.5], [2.5, 1.7], [3, 0.9], [3.5, 0.1], [3.75, 3], [4, 2.5], [4.5, 1.7], [5, 0.9], [5.5, 0.1], [5.75, 3], [6, 2.5], [6.5, 1.7], [7, 0.9], [7.5, 0.1], [8, -0.7], [8.25, 2], [8.5, 1.5], [9, 0.7], [9.5, -0.1], [10, -0.9], [10.25, 2.5], [10.5, 2], [11, 1.2], [11.5, 0.4], [12, -0.4], [12.25, 2.5], [12.5, 2], [13, 1.2], [13.5, 0.4], [13.7, 0.7], [23.7, 0.7]];
const magLow1: Pt[] = [[0, 0], [0.5, -0.8], [1, -1.6], [1.5, -2.4], [2, -3.2], [2.25, -1], [2.5, -1.5], [3, -2.3], [3.5, -3.1], [4, -3.9], [4.5, -4.7], [5, -5.5], [5.25, -3.5], [5.5, -4], [6, -4.8], [6.5, -5.6], [7, -6.4], [7.5, -7.2], [8, -8], [8.25, -6], [8.5, -6.5], [9, -7.3], [9.5, -8.1], [10, -8.9], [10.5, -9.7], [11, -10.5], [11.5, -11.3], [11.75, -9], [12, -9.5], [12.5, -10.3], [13, -11.1], [13.5, -11.9], [14, -12.7], [14.5, -13.5], [15, -14.3], [15.25, -12], [15.5, -12.5], [16, -13.3], [16.5, -14.1], [17, -14.9], [17.25, -12.5], [17.5, -13], [18, -13.8], [18.5, -14.6], [19, -15.4], [19.5, -16.2], [19.75, -14], [20, -14.5], [20.5, -15.3], [21, -16.1], [21.5, -16.9], [22, -17.7], [22.2, -18.5], [22.5, -16.5], [23, -17.3], [23.5, -16.5], [23.7, -16.3]];
const magLow2: Pt[] = [[0, 0], [0.5, -1.6], [1, -3.2], [1.5, -4.8], [1.75, -2], [2, -2.5], [2.5, -3.2], [3, -4], [3.5, -4.8], [4, -5.5], [4.5, -6.3], [5, -7], [5.25, -4.5], [5.5, -5], [6, -5.8], [6.5, -6.5], [7, -7.3], [7.5, -8], [8, -8.8], [8.25, -6.3], [8.5, -6.8], [9, -7.5], [9.5, -8.3], [10, -9], [10.5, -9.8], [11, -10.5], [11.5, -11.2], [11.75, -8.5], [12, -9], [12.5, -9.8], [13, -10.5], [13.5, -11.3], [14, -12], [14.5, -12.8], [14.75, -10.5], [15, -11], [15.5, -11.8], [16, -12.5], [16.5, -13.3], [17, -14], [17.5, -14.8], [17.75, -12.5], [18, -13], [18.5, -13.7], [19, -14.5], [19.5, -15.2], [19.75, -12.5], [20, -13], [20.5, -13.8], [21, -14.5], [21.5, -15.3], [22, -16], [22.25, -13.5], [22.5, -14], [23, -14.8], [23.5, -15.5], [23.7, -15.2]];
const magC: Pt[] = [[0, 0], [0.5, -0.8], [0.75, 1.8], [1, 1.4], [1.5, 0.6], [2, -0.2], [2.5, -1], [2.75, 1.5], [3, 1], [3.5, 0.2], [4, -0.6], [4.5, -1.4], [5, -2.2], [5.25, 0.5], [5.5, 0], [6, -0.8], [6.5, -1.6], [7, -2.4], [7.25, 0], [7.5, -0.5], [8, -1.3], [8.5, -2.1], [9, -2.9], [9.5, -3.7], [9.75, -1], [10, -1.5], [10.5, -2.3], [11, -3.1], [11.5, -3.9], [12, -4.7], [12.5, -5.5], [12.75, -2.5], [13, -3], [13.5, -3.8], [14, -4.6], [14.5, -5.4], [15, -6.2], [15.25, -3.5], [15.5, -4], [16, -4.8], [16.5, -5.6], [17, -6.4], [17.5, -7.2], [17.75, -4.5], [18, -5], [18.5, -5.8], [19, -6.6], [19.5, -7.4], [19.75, -4.5], [20, -5], [20.5, -5.8], [21, -6.6], [21.5, -7.4], [22, -8.2], [22.25, -5.5], [22.5, -6], [23, -6.8], [23.5, -7.6], [23.7, -7]];
const cyanLow: Pt[] = [[0, 0], [0.5, -1], [1, -2], [1.5, -2.8], [2, -3.8], [2.5, -4.5], [3, -5.5], [3.6, -7], [4, -7.3], [4.3, -5.7], [4.5, -6], [5, -6.8], [5.5, -7.5], [5.75, -5.5], [6, -6], [6.5, -6.8], [7, -7.5], [7.5, -8.3], [8, -9], [8.5, -9.8], [8.75, -7.5], [9, -8], [9.5, -8.8], [10, -9.5], [10.5, -10.3], [11, -11], [11.25, -8.5], [11.5, -9], [12, -9.8], [12.5, -10.5], [13, -11.3], [13.5, -12], [14, -12.8], [14.25, -10], [14.5, -10.5], [15, -11.3], [15.5, -12], [16, -12.8], [16.5, -13.5], [17, -14.3], [17.25, -11.5], [17.5, -12], [18, -12.8], [18.5, -13.5], [19, -14.3], [19.5, -15], [20, -15.8], [20.25, -13], [20.5, -13.5], [21, -14.3], [21.5, -15], [22, -15.8], [22.5, -16.5], [22.75, -14], [23, -14.5], [23.5, -15.2], [23.7, -15]];
const cyanFlat: Pt[] = [[0, 0], [0.5, -0.8], [1, -1.6], [1.25, 1], [1.5, 0.5], [2, -0.3], [2.5, -1.1], [3, -1.9], [3.25, 0.5], [3.5, 0], [4, -0.8], [4.5, -1.6], [5, -2.4], [5.5, -3.2], [6, -4], [6.25, -1.5], [6.5, -2], [7, -2.8], [7.5, -3.6], [8, -4.4], [8.5, -5.2], [8.75, -2.5], [9, -3], [9.5, -3.8], [10, -4.6], [10.5, -5.4], [11, -6.2], [11.25, -3.5], [11.5, -4], [12, -4.8], [12.5, -5.6], [13, -6.4], [13.25, -3], [13.5, -2.5], [13.7, 0], [23.7, 0]];
const cyan3: Pt[] = [[0, 0], [0.5, -0.7], [0.75, 1.5], [1, 1.2], [1.5, 0.5], [2, -0.3], [2.25, 2.5], [2.5, 2], [3, 1.2], [3.5, 0.4], [3.75, 3.5], [4, 3], [4.5, 2.2], [4.75, 5], [5, 4.5], [5.5, 3.7], [6, 2.9], [6.5, 2.1], [6.75, 5], [7, 4.5], [7.5, 3.7], [8, 2.9], [8.5, 2.1], [8.75, 5], [9, 4.5], [9.5, 3.7], [10, 2.9], [10.5, 2.1], [11, 1.3], [11.5, 0.5], [11.75, 3], [12, 2.5], [12.5, 1.7], [13, 0.9], [13.5, 0.1], [14, -0.7], [14.5, -1.5], [14.75, 1], [15, 0.5], [15.5, -0.3], [16, -1.1], [16.5, -1.9], [17, -2.7], [17.25, 0], [17.5, -0.5], [18, -1.3], [18.5, -2.1], [19, -2.9], [19.5, -3.7], [19.75, -1], [20, -1.5], [20.5, -2.3], [21, -3.1], [21.5, -3.9], [22, -4.7], [22.25, -2], [22.5, -2.5], [23, -3.3], [23.5, -4.1], [23.7, -4.2]];
const yellowLow: Pt[] = [[0, 0], [0.5, -0.8], [1, -1.5], [1.5, -2.3], [2, -3], [2.5, -4], [3, -5], [3.3, -6.5], [3.6, -4.8], [4, -5], [4.5, -5.6], [5, -6], [5.5, -6.6], [6, -7], [6.5, -7.6], [7, -8], [7.5, -8.6], [8, -9], [8.5, -10], [9, -10.5], [9.6, -12], [10, -12.6], [10.5, -13.5], [11, -14], [11.3, -16.6], [11.7, -15.2], [12.3, -15.2], [12.7, -13.6], [13.4, -14.4], [13.7, -14.4], [14, -12], [14.5, -10], [15, -9], [15.5, -9.6], [16, -8.5], [16.5, -9.1], [17, -8], [17.5, -8.6], [18, -7], [18.5, -7.6], [19, -6.5], [19.5, -6], [23.7, -6]];
const yellow2: Pt[] = [[0, 0], [0.5, -0.8], [0.75, 1.5], [1, 1.2], [1.5, 0.4], [2, -0.4], [2.5, -1.2], [3, -2], [3.5, -2.8], [3.75, -0.5], [4, -1], [4.5, -1.8], [5, -2.6], [5.5, -3.4], [6, -4.2], [6.5, -5], [7, -5.8], [7.25, -3], [7.5, -3.5], [8, -4.3], [8.5, -5], [9, -5.8], [9.5, -6.5], [9.75, -4.5], [10, -5], [10.5, -5.8], [11, -6.5], [11.5, -7.3], [12, -8], [12.5, -8.8], [12.75, -6], [13, -6.5], [13.5, -7.3], [14, -8], [14.5, -8.8], [15, -9.5], [15.25, -6.5], [15.5, -7], [16, -7.8], [16.5, -8.5], [17, -9.3], [17.5, -10], [18, -10.8], [18.25, -8], [18.5, -8.5], [19, -9.3], [19.5, -10], [20, -10.8], [20.5, -11.5], [20.75, -8.5], [21, -9], [21.5, -9.8], [22, -10.5], [22.5, -11.3], [23, -12], [23.25, -9.5], [23.5, -10], [23.7, -10.3]];
const yellow3: Pt[] = [[0, 0], [0.25, 2], [0.5, 1.5], [1, 0.7], [1.25, 3], [1.5, 2.5], [2, 1.7], [2.5, 0.9], [2.75, 3.5], [3, 3], [3.5, 2.2], [4, 1.4], [4.5, 0.6], [4.75, 3.5], [5, 3], [5.5, 2.2], [6, 1.4], [6.5, 0.6], [6.75, 4], [7, 3.5], [7.5, 2.7], [8, 1.9], [8.5, 1.1], [8.75, 4], [9, 3.5], [9.5, 2.7], [10, 1.9], [10.5, 1.1], [11, 0.3], [11.25, 3], [11.5, 2.5], [12, 1.7], [12.5, 0.9], [12.75, 4], [13, 3.5], [13.5, 2.7], [14, 1.9], [14.5, 1.1], [15, 0.3], [15.25, 3], [15.5, 2.5], [16, 1.7], [16.5, 0.9], [17, 0.1], [17.5, -0.7], [17.75, 2], [18, 1.5], [18.5, 0.7], [19, -0.1], [19.5, -0.9], [20, -1.7], [20.25, 1], [20.5, 0.5], [21, -0.3], [21.5, -1.1], [22, -1.9], [22.25, 0.5], [22.5, 0], [23, -0.8], [23.5, -1.6], [23.7, -1]];

const series: { name: string; color: string; pts: Pt[] }[] = [
  { name: "red4", color: R, pts: red4 },
  { name: "green2", color: G, pts: green2 },
  { name: "lb2", color: LB, pts: lb2 },
  { name: "magLow2", color: M, pts: magLow2 },
  { name: "cyanLow", color: C, pts: cyanLow },
  { name: "yellow2", color: Y, pts: yellow2 },
  { name: "black3", color: K, pts: black3 },
  { name: "dr2", color: DR, pts: dr2 },
  { name: "red5", color: R, pts: red5 },
  { name: "green3", color: G, pts: green3 },
  { name: "blueLow3", color: B, pts: blueLow3 },
  { name: "magC", color: M, pts: magC },
  { name: "cyanFlat", color: C, pts: cyanFlat },
  { name: "yellowLow", color: Y, pts: yellowLow },
  { name: "black2", color: K, pts: black2 },
  { name: "dr4", color: DR, pts: dr4 },
  { name: "red7", color: R, pts: red7 },
  { name: "green5", color: G, pts: green5 },
  { name: "lb5", color: LB, pts: lb5 },
  { name: "magLow1", color: M, pts: magLow1 },
  { name: "dr3", color: DR, pts: dr3 },
  { name: "red6", color: R, pts: red6 },
  { name: "greenLow", color: G, pts: greenLow },
  { name: "blueEarly", color: B, pts: blueEarly },
  { name: "magB", color: M, pts: magB },
  { name: "cyan3", color: C, pts: cyan3 },
  { name: "yellow3", color: Y, pts: yellow3 },
  { name: "black1", color: K, pts: black1 },
  { name: "drMid", color: DR, pts: drMid },
  { name: "red1", color: R, pts: red1 },
  { name: "green4", color: G, pts: green4 },
  { name: "blueLow2", color: B, pts: blueLow2 },
  { name: "lb4", color: LB, pts: lb4 },
  { name: "cyan2", color: C, pts: cyan2 },
  { name: "yellowTop", color: Y, pts: yellowTop },
  { name: "red2", color: R, pts: red2 },
  { name: "greenTop", color: G, pts: greenTop },
  { name: "blueJump", color: B, pts: blueJump },
  { name: "lbFlat", color: LB, pts: lbFlat },
  { name: "magA", color: M, pts: magA },
  { name: "cyanTop", color: C, pts: cyanTop },
  { name: "red3", color: R, pts: red3 },
  { name: "blueLow1", color: B, pts: blueLow1 },
  { name: "blueTop", color: LB, pts: blueTop },
  { name: "drTop", color: DR, pts: drTop },
];

const FONT = "'DejaVu Sans Mono', monospace";
const tickStyle = { fontFamily: FONT, fontSize: 9.5, fill: "#000" };
const blank = () => "";

const App = () => {
  return (
    <div style={{ position: "absolute", left: 0, top: 0, width: 640, height: 480, background: "#fff" }}>
      <div style={{ position: "absolute", left: 0, width: 546, top: 8, textAlign: "center", fontFamily: FONT, fontSize: 9.5 }}>
        Cumulative Z-Squared Value
      </div>
      <div style={{ position: "absolute", left: 0, width: 548, top: 466, textAlign: "center", fontFamily: FONT, fontSize: 9.5 }}>
        Hour of Day
      </div>
      <div
        style={{
          position: "absolute",
          left: 10,
          top: 239,
          transform: "translate(-50%, -50%) rotate(-90deg)",
          whiteSpace: "nowrap",
          fontFamily: FONT,
          fontSize: 9.5,
        }}
      >
        Cumulative (Z*Z)-1
      </div>
      <LineChart width={640} height={480} margin={{ top: 32, right: 19, bottom: 0, left: 0 }} style={{ position: "absolute", left: 0, top: 0 }}>
        <XAxis xAxisId={0} dataKey="h" type="number" domain={[0, 23.7]} ticks={hourTicks} height={34} tickLine={false} tickSize={0} tickMargin={8} axisLine={{ stroke: "#000" }} tick={tickStyle} allowDataOverflow />
        <XAxis xAxisId="bt" dataKey="h" type="number" domain={[0, 23.7]} ticks={hourTicks} mirror tickSize={5} tickFormatter={blank} axisLine={false} tickLine={{ stroke: "#000" }} />
        <XAxis xAxisId="tp" orientation="top" dataKey="h" type="number" domain={[0, 23.7]} ticks={hourTicks} mirror tickSize={5} tickFormatter={blank} axisLine={{ stroke: "#000" }} tickLine={{ stroke: "#000" }} />
        <YAxis yAxisId={0} type="number" domain={[-30, 50]} ticks={valueTicks} width={51} tickLine={false} tickSize={0} tickMargin={7} axisLine={{ stroke: "#000" }} tick={tickStyle} allowDataOverflow />
        <YAxis yAxisId="lt" type="number" domain={[-30, 50]} ticks={valueTicks} mirror tickSize={5} tickFormatter={blank} axisLine={false} tickLine={{ stroke: "#000" }} />
        <YAxis yAxisId="rt" orientation="right" type="number" domain={[-30, 50]} ticks={valueTicks} mirror tickSize={5} tickFormatter={blank} axisLine={{ stroke: "#000" }} tickLine={{ stroke: "#000" }} />
        {series.map((s) => (
          <Line
            key={s.name}
            xAxisId={0}
            yAxisId={0}
            data={s.pts.map(([h, v]) => ({ h, v }))}
            dataKey="v"
            type="linear"
            stroke={s.color}
            strokeWidth={1}
            dot={false}
            activeDot={false}
            isAnimationActive={false}
          />
        ))}
      </LineChart>
    </div>
  );
};

export default App;
